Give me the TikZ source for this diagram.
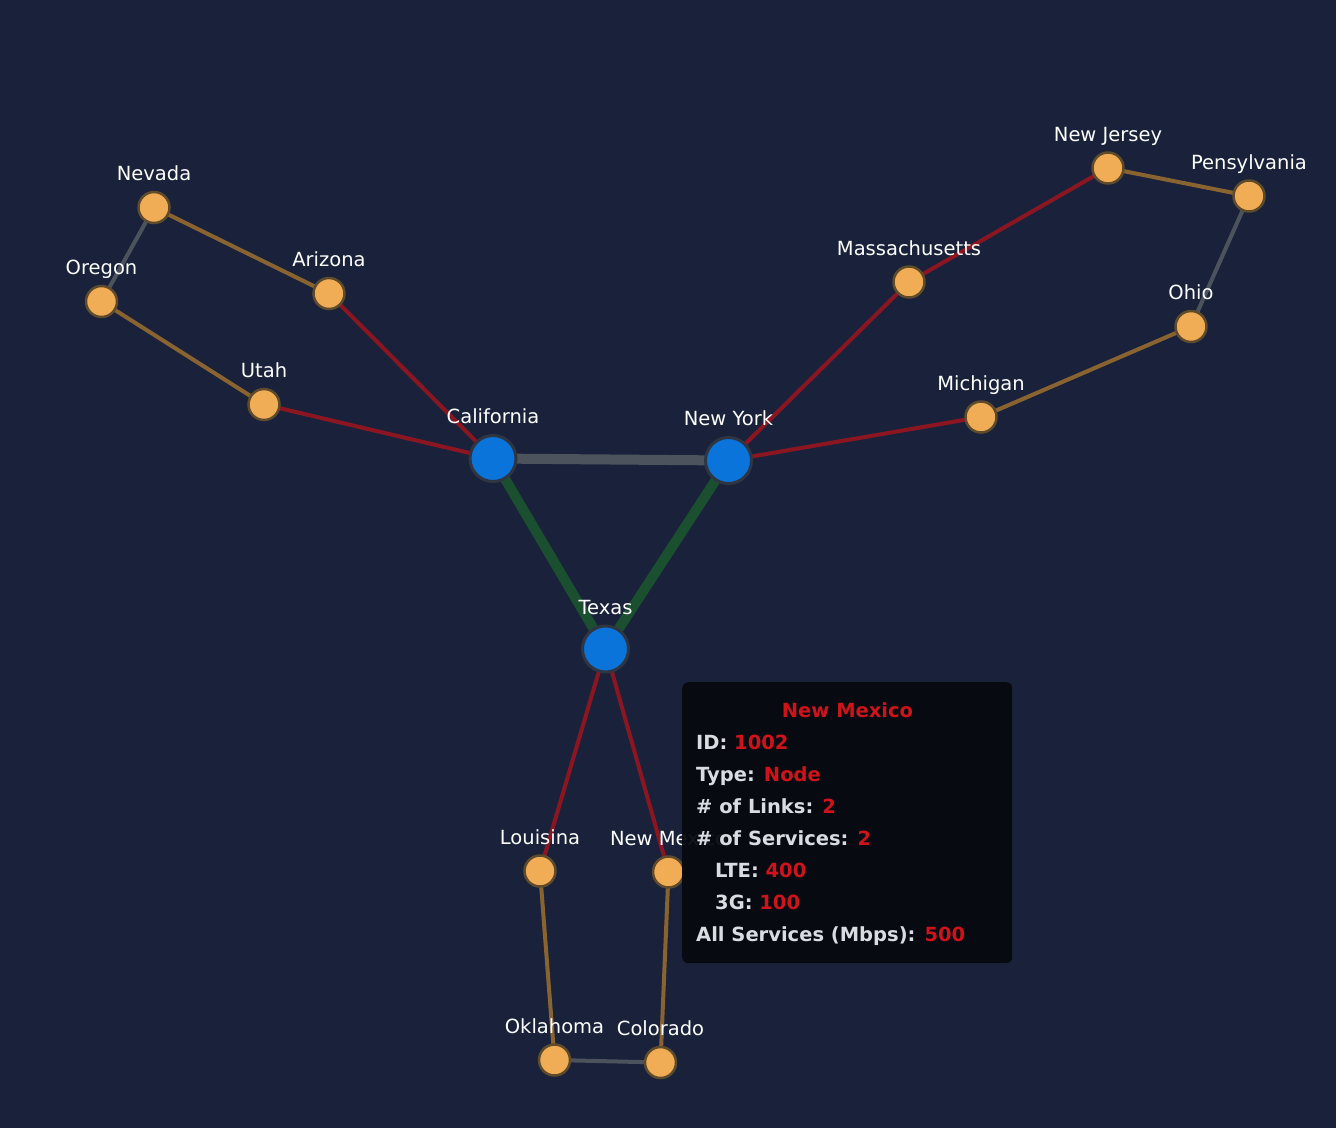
\documentclass[tikz,border=0pt]{standalone}
\usepackage{fontspec}
\setmainfont{DejaVu Sans}

\definecolor{bgnavy}{HTML}{19223A}
\definecolor{siteorange}{HTML}{F0AD55}
\definecolor{siteedge}{HTML}{5E4B2C}
\definecolor{hubblue}{HTML}{0A74DA}
\definecolor{hubedge}{HTML}{2F3642}
\definecolor{linkred}{HTML}{8B1621}
\definecolor{linkbrown}{HTML}{8A6430}
\definecolor{linkgray}{HTML}{4D535C}
\definecolor{linkgreen}{HTML}{1A5030}
\definecolor{tipfill}{HTML}{06090E}
\definecolor{tipgray}{HTML}{D9DCE0}
\definecolor{tipred}{HTML}{D0121B}

\pgfdeclarelayer{back}
\pgfdeclarelayer{links}
\pgfsetlayers{back,links,main}

\tikzset{
  site/.style={circle, fill=siteorange, draw=siteedge, line width=2.5pt,
    minimum size=31pt, inner sep=0pt},
  hub/.style={circle, fill=hubblue, draw=hubedge, line width=3pt,
    minimum size=46pt, inner sep=0pt},
  every label/.style={text=white, font=\fontsize{19.5}{22}\selectfont,
    inner sep=0pt, text height=14pt, text depth=0pt, yshift=10pt},
  link/.style={line width=4pt},
  trunk/.style={line width=10pt},
  tipbox/.style={fill=tipfill, fill opacity=0.94, rounded corners=6pt,
    minimum width=330pt, minimum height=281pt, inner sep=0pt},
  tiptext/.style={font=\bfseries\fontsize{19.5}{23}\selectfont, text=tipgray,
    inner sep=0pt, anchor=base west}
}

\begin{document}
\begin{tikzpicture}[x=1pt, y=-1pt]
\begin{pgfonlayer}{back}
\fill[bgnavy] (0,0) rectangle (1336,1128);
\end{pgfonlayer}

% west group
\node[site, label=above:Nevada] (nv) at (154,207.5) {};
\node[site, label=above:Oregon] (or) at (101.5,301.5) {};
\node[site, label=above:Arizona] (az) at (329,293.5) {};
\node[site, label=above:Utah] (ut) at (264,404.5) {};

% hubs
\node[hub, label=above:California] (ca) at (493,458.5) {};
\node[hub, label=above:New York] (ny) at (728.5,460.5) {};
\node[hub, label=above:Texas] (tx) at (605.5,649) {};

% east group
\node[site, label=above:Massachusetts] (ma) at (909,282) {};
\node[site, label=above:New Jersey] (nj) at (1108,168) {};
\node[site, label=above:Pensylvania] (pa) at (1249,196) {};
\node[site, label=above:Ohio] (oh) at (1191,326.5) {};
\node[site, label=above:Michigan] (mi) at (981,417) {};

% south group
\node[site, label=above:Louisina] (la) at (540,871) {};
\node[site, label=above:New Mexico] (nm) at (668.5,872) {};
\node[site, label=above:Oklahoma] (ok) at (554.5,1060) {};
\node[site, label=above:Colorado] (co) at (660.5,1062.5) {};

\begin{pgfonlayer}{links}
\draw[trunk, linkgray] (ca.center) -- (ny.center);
\draw[trunk, linkgreen] (ca.center) -- (tx.center);
\draw[trunk, linkgreen] (ny.center) -- (tx.center);
% red links
\draw[link, linkred] (az.center) -- (ca.center);
\draw[link, linkred] (ut.center) -- (ca.center);
\draw[link, linkred] (ma.center) -- (ny.center);
\draw[link, linkred] (mi.center) -- (ny.center);
\draw[link, linkred] (ma.center) -- (nj.center);
\draw[link, linkred] (tx.center) -- (la.center);
\draw[link, linkred] (tx.center) -- (nm.center);
% brown links
\draw[link, linkbrown] (nv.center) -- (az.center);
\draw[link, linkbrown] (or.center) -- (ut.center);
\draw[link, linkbrown] (nj.center) -- (pa.center);
\draw[link, linkbrown] (oh.center) -- (mi.center);
\draw[link, linkbrown] (la.center) -- (ok.center);
\draw[link, linkbrown] (nm.center) -- (co.center);
% gray links
\draw[link, linkgray] (nv.center) -- (or.center);
\draw[link, linkgray] (pa.center) -- (oh.center);
\draw[link, linkgray] (ok.center) -- (co.center);
\end{pgfonlayer}

% tooltip
\node[tipbox, anchor=north west] (tip) at (682,682) {};
\node[tiptext, anchor=base, text=tipred] (tipttl) at (847.5,717.5) {New Mexico};
\node[tiptext] (tipid) at (696,749.5) {ID: \textcolor{tipred}{1002}};
\node[tiptext] (tiptype) at (696,781.5) {Type: \textcolor{tipred}{Node}};
\node[tiptext] (tiplinks) at (696,813.5) {\# of Links: \textcolor{tipred}{2}};
\node[tiptext] (tipsvc) at (696,845.5) {\# of Services: \textcolor{tipred}{2}};
\node[tiptext] (tiplte) at (715,877.5) {LTE: \textcolor{tipred}{400}};
\node[tiptext] (tipthree) at (715,909.5) {3G: \textcolor{tipred}{100}};
\node[tiptext] (tipall) at (696,941.5) {All Services (Mbps): \textcolor{tipred}{500}};
\end{tikzpicture}
\end{document}
